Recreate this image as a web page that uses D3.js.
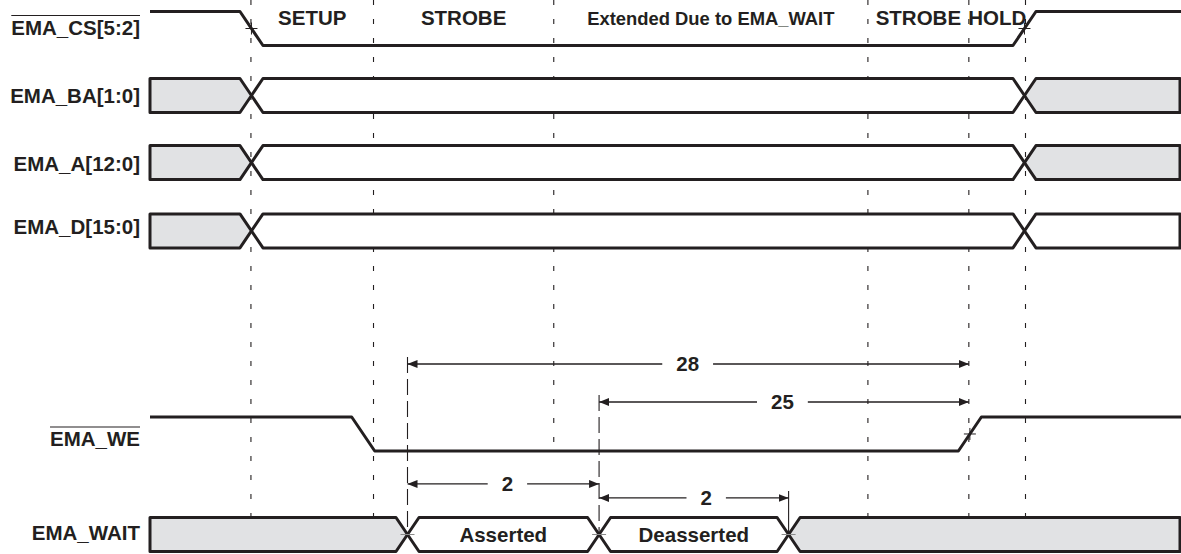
<!DOCTYPE html>
<html lang="en">
<head>
<meta charset="utf-8">
<script src="https://d3js.org/d3.v7.min.js"></script>
<style>
  body { margin: 0; background: #ffffff; }
  svg { display: block; font-family: "Liberation Sans", Arial, sans-serif; font-weight: bold; }
  .name, .phase, .dim, .state { fill: #231f20; }
</style>
</head>
<body>
<script>
// ---- data (time in units across the waveform area, rows in lanes) ----
var signals = ["EMA_CS[5:2]", "EMA_BA[1:0]", "EMA_A[12:0]", "EMA_D[15:0]", "EMA_WE", "EMA_WAIT"];
var lanes = [0, 1, 2, 3.02, 6.05, 7.55];
var labelLanes = [-0.02, 1, 2.01, 2.95, 6.12, 7.52];
var activeLow = [true, false, false, false, true, false];

var phaseMarks = [9.8, 21.7, 39.2, 69.7, 79.5, 85.0];
var markBottoms = [7.3, 7.3, 6.3, 7.3, 7.3, 7.3];
var phaseNames = ["SETUP", "STROBE", "Extended Due to EMA_WAIT", "STROBE", "HOLD"];

var csEdges = [9.85, 84.9];
var weEdges = [20.7, 79.6];
var addrEdges = [9.85, 84.9];
var addrStates = ["x", "valid", "x"];
var dataStates = ["x", "valid", "valid"];
var waitEdges = [25.0, 43.6, 62.0];
var waitStates = ["x", "Asserted", "Deasserted", "x"];

var dimFrom = [25.0, 43.6, 25.0, 43.6];
var dimTo = [79.5, 79.5, 43.6, 62.0];
var dimText = ["28", "25", "2", "2"];
var dimLane = [5.006, 5.573, 6.796, 7.005];
var dimTextAt = [52.2, 61.4, 34.7, 54.0];

// ---- layout ----
var width = 1181, height = 554;
var ink = "#231f20", grey = "#e1e2e4";
var h = 11.5, hh = 17;

var x = d3.scaleLinear().domain([0, 100]).range([150, 1180]);
var y = d3.scaleLinear().domain([0, 7.55]).range([28.5, 534.5]);

var svg = d3.select("body").append("svg")
    .attr("width", width)
    .attr("height", height);

var defs = svg.append("defs");
defs.append("marker")
    .attr("id", "arr")
    .attr("viewBox", "0 0 10 8")
    .attr("refX", 10).attr("refY", 4)
    .attr("markerWidth", 10).attr("markerHeight", 8)
    .attr("markerUnits", "userSpaceOnUse")
    .attr("orient", "auto-start-reverse")
  .append("path")
    .attr("d", "M0,0L10,4L0,8Z")
    .attr("fill", ink);

// phase boundary dashed lines
svg.append("g").selectAll("line")
    .data(phaseMarks)
  .enter().append("line")
    .attr("x1", function(d) { return x(d); })
    .attr("x2", function(d) { return x(d); })
    .attr("y1", 0)
    .attr("y2", function(d, i) { return y(markBottoms[i]); })
    .attr("stroke", ink)
    .attr("stroke-width", 1.1)
    .attr("stroke-dasharray", "5,14");

// phase names
svg.append("g").selectAll("text")
    .data(phaseNames)
  .enter().append("text")
    .attr("class", "phase")
    .attr("x", function(d, i) { return (x(phaseMarks[i]) + x(phaseMarks[i + 1])) / 2; })
    .attr("y", 25)
    .attr("text-anchor", "middle")
    .style("font-size", function(d) { return d.length > 10 ? "18.4px" : "20.5px"; })
    .text(function(d) { return d; });

// extension lines for the dimension arrows
var extX = [], extTop = [];
dimFrom.concat(dimTo).forEach(function(v, k) {
    var i = k % dimFrom.length;
    if (phaseMarks.indexOf(v) >= 0) return;
    var j = extX.indexOf(v);
    var top = y(dimLane[i]) - 7;
    if (j < 0) { extX.push(v); extTop.push(top); }
    else extTop[j] = Math.min(extTop[j], top);
});
svg.append("g").selectAll("line")
    .data(extX)
  .enter().append("line")
    .attr("x1", function(d) { return x(d); })
    .attr("x2", function(d) { return x(d); })
    .attr("y1", function(d, i) { return extTop[i]; })
    .attr("y2", y(7.55))
    .attr("stroke", ink)
    .attr("stroke-width", 1.1)
    .attr("stroke-dasharray", function(d, i) { return y(7.55) - extTop[i] > 60 ? "16,6" : null; });

// level signals (CS, WE)
function levelPath(edges, lane) {
    var hi = y(lane) - hh, lo = y(lane) + hh;
    var lvl = [hi, lo];
    var pts = [[x(0), hi]];
    edges.forEach(function(e, i) {
        pts.push([x(e) - h, lvl[i % 2]]);
        pts.push([x(e) + h, lvl[(i + 1) % 2]]);
    });
    pts.push([width, lvl[edges.length % 2]]);
    return d3.line()(pts);
}

// bus signals
function busPolys(edges, states, lane) {
    var top = y(lane) - hh, bot = y(lane) + hh, mid = y(lane);
    var b = [x(0)].concat(edges.map(x)).concat([x(100)]);
    return states.map(function(s, i) {
        var first = i === 0, last = i === states.length - 1;
        var p = [];
        p.push(first ? [b[i], top] : [b[i] + h, top]);
        if (last) p.push([b[i + 1], top], [b[i + 1], bot]);
        else p.push([b[i + 1] - h, top], [b[i + 1], mid], [b[i + 1] - h, bot]);
        if (first) p.push([b[i], bot]);
        else p.push([b[i] + h, bot], [b[i], mid]);
        return { d: d3.line()(p) + "Z", state: s, cx: (b[i] + b[i + 1]) / 2, cy: mid };
    });
}

var waves = svg.append("g");
[[csEdges, 0], [weEdges, 4]].forEach(function(w) {
    waves.append("path")
        .attr("d", levelPath(w[0], lanes[w[1]]))
        .attr("fill", "none")
        .attr("stroke", ink)
        .attr("stroke-width", 3)
        .attr("stroke-linejoin", "round");
    // small crosshair where the edge meets a phase mark
    w[0].forEach(function(e) {
        var hit = phaseMarks.some(function(m) { return Math.abs(m - e) < 0.3; });
        if (!hit) return;
        var cx = x(e), cy = y(lanes[w[1]]);
        waves.append("path")
            .attr("d", "M" + (cx - 6) + "," + cy + "H" + (cx + 6) + "M" + cx + "," + (cy - 6) + "V" + (cy + 6))
            .attr("stroke", ink).attr("stroke-width", 1);
    });
});

[[addrEdges, addrStates, 1], [addrEdges, addrStates, 2], [addrEdges, dataStates, 3], [waitEdges, waitStates, 5]]
  .forEach(function(b) {
    var polys = busPolys(b[0], b[1], lanes[b[2]]);
    waves.append("g").selectAll("path")
        .data(polys)
      .enter().append("path")
        .attr("d", function(d) { return d.d; })
        .attr("fill", function(d) { return d.state === "x" ? grey : "#ffffff"; })
        .attr("stroke", ink)
        .attr("stroke-width", 3)
        .attr("stroke-linejoin", "round");
    waves.append("g").selectAll("text")
        .data(polys.filter(function(d) { return d.state !== "x" && d.state !== "valid"; }))
      .enter().append("text")
        .attr("class", "state")
        .attr("x", function(d) { return d.cx; })
        .attr("y", function(d) { return d.cy; })
        .attr("dy", "0.36em")
        .attr("text-anchor", "middle")
        .style("font-size", "20.5px")
        .text(function(d) { return d.state; });
  });

// grey ticks at the EMA_WAIT crossings
waves.append("g").selectAll("line")
    .data(waitEdges)
  .enter().append("line")
    .attr("x1", function(d) { return x(d) - 7; })
    .attr("x2", function(d) { return x(d) + 7; })
    .attr("y1", y(lanes[5])).attr("y2", y(lanes[5]))
    .attr("stroke", "#8a8a8a").attr("stroke-width", 1);

// dimension arrows
var dims = svg.append("g");
dimText.forEach(function(t, i) {
    var yy = y(dimLane[i]);
    var tx = x(dimTextAt[i]);
    var label = dims.append("text")
        .attr("class", "dim")
        .attr("x", tx).attr("y", yy)
        .attr("dy", "0.36em")
        .attr("text-anchor", "middle")
        .style("font-size", "20.5px")
        .text(t);
    var w = label.node().getComputedTextLength();
    var pad = 14;
    dims.append("line")
        .attr("x1", x(dimFrom[i])).attr("x2", tx - w / 2 - pad)
        .attr("y1", yy).attr("y2", yy)
        .attr("stroke", ink).attr("stroke-width", 1.3)
        .attr("marker-start", "url(#arr)");
    dims.append("line")
        .attr("x1", tx + w / 2 + pad).attr("x2", x(dimTo[i]))
        .attr("y1", yy).attr("y2", yy)
        .attr("stroke", ink).attr("stroke-width", 1.3)
        .attr("marker-end", "url(#arr)");
});

// signal names
var names = svg.append("g");
signals.forEach(function(s, i) {
    var t = names.append("text")
        .attr("class", "name")
        .attr("x", 140)
        .attr("y", y(labelLanes[i]))
        .attr("dy", "0.36em")
        .attr("text-anchor", "end")
        .style("font-size", "20.5px")
        .text(s);
    if (activeLow[i]) {
        var bb = t.node().getBBox();
        var oy = y(labelLanes[i]) + 7.4 - 19;
        names.append("line")
            .attr("x1", bb.x).attr("x2", bb.x + bb.width)
            .attr("y1", oy).attr("y2", oy)
            .attr("stroke", ink).attr("stroke-width", 1.1);
    }
});
</script>
</body>
</html>
